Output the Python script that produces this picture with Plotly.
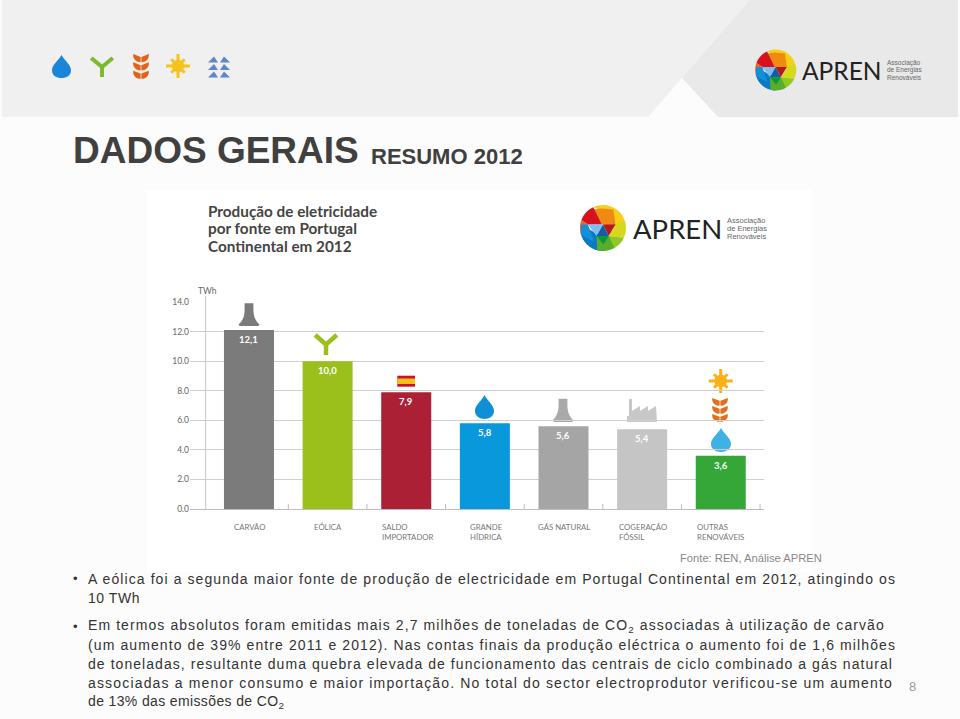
import json, math
import plotly.graph_objects as go

W, H = 960, 719
categories = ["CARVÃO", "EÓLICA", "SALDO IMPORTADOR", "GRANDE HÍDRICA", "GÁS NATURAL", "COGERAÇÃO FÓSSIL", "OUTRAS RENOVÁVEIS"]
values = [12.1, 10.0, 7.9, 5.8, 5.6, 5.4, 3.6]
value_labels = ["12,1", "10,0", "7,9", "5,8", "5,6", "5,4", "3,6"]
bar_colors = ["#7b7b7b", "#9bc01c", "#ab2035", "#0a98dc", "#a5a5a5", "#c5c5c5", "#35a738"]
y_ticks = [0, 2, 4, 6, 8, 10, 12, 14]
label_lines = [["CARVÃO"], ["EÓLICA"], ["SALDO", "IMPORTADOR"], ["GRANDE", "HÍDRICA"], ["GÁS NATURAL"], ["COGERAÇÃO", "FÓSSIL"], ["OUTRAS", "RENOVÁVEIS"]]
label_left = [233, 313, 381, 469, 537, 618, 696]
body_lines = [
    ("A eólica foi a segunda maior fonte de produção de electricidade em Portugal Continental em 2012, atingindo os", 579, 895),
    ("10 TWh", 598, 139),
    ("Em termos absolutos foram emitidas mais 2,7 milhões de toneladas de CO<sub>2</sub> associadas à utilização de carvão", 626, 886),
    ("(um aumento de 39% entre 2011 e 2012). Nas contas finais da produção eléctrica o aumento foi de 1,6 milhões", 645, 895),
    ("de toneladas, resultante duma quebra elevada de funcionamento das centrais de ciclo combinado a gás natural", 664, 892),
    ("associadas a menor consumo e maior importação. No total do sector electroprodutor verificou-se um aumento", 683, 892),
    ("de 13% das emissões de CO<sub>2</sub>", 702, 284),
]

shapes = []
anns = []


def path(cmds, color, line=None, lw=0):
    out = []
    for c in cmds:
        op, nums = c[0], c[1:]
        pts = [f"{nums[i]:.2f},{nums[i + 1]:.2f}" for i in range(0, len(nums), 2)]
        out.append(op + " ".join(pts))
    shapes.append(dict(type="path", xref="x", yref="y", layer="below",
                       path=" ".join(out) + ("" if color is None else " Z"),
                       fillcolor=color or "rgba(0,0,0,0)", line=dict(color=line or "rgba(0,0,0,0)", width=lw)))


def poly(points, color):
    path([("M", *points[0])] + [("L", *p) for p in points[1:]], color)


def rect(x0, y0, x1, y1, color):
    shapes.append(dict(type="rect", xref="x", yref="y", layer="below", x0=x0, x1=x1,
                       y0=y0, y1=y1, fillcolor=color, line=dict(width=0)))


def text(x, y, s, size, color, font="Liberation Sans", anchor="left", bold=False):
    anns.append(dict(xref="x", yref="y", x=x, y=y, text=f"<b>{s}</b>" if bold else s, showarrow=False,
                     xanchor=anchor, yanchor="middle", align=anchor, borderpad=0, font=dict(size=size, color=color, family=font)))


def drop(x0, y0, x1, y1, color):
    cx, w, h = (x0 + x1) / 2, x1 - x0, y1 - y0
    path([("M", cx, y0), ("C", cx + w * .16, y0 + h * .25, x1, y0 + h * .42, x1, y0 + h * .66),
          ("C", x1, y1 - h * .1, cx + w * .25, y1, cx, y1), ("C", cx - w * .25, y1, x0, y1 - h * .1, x0, y0 + h * .66),
          ("C", x0, y0 + h * .42, cx - w * .16, y0 + h * .25, cx, y0)], color)


def tower(cx, y0, y1, w, color):
    h = y1 - y0
    path([("M", cx - w * .21, y0 + h * .03), ("L", cx + w * .21, y0 + h * .03), ("L", cx + w * .21, y0 + h * .2),
          ("C", cx + w * .2, y0 + h * .55, cx + w * .27, y0 + h * .75, cx + w * .5, y1 - h * .06),
          ("L", cx + w * .44, y1), ("L", cx - w * .44, y1), ("L", cx - w * .5, y1 - h * .06),
          ("C", cx - w * .27, y0 + h * .75, cx - w * .2, y0 + h * .55, cx - w * .21, y0 + h * .2)], color)


def y_icon(cx, y0, y1, w, color, lw=4):
    h = y1 - y0
    path([("M", cx, y1 - 1), ("L", cx, y0 + h * .5), ("L", cx - w * .45, y0 + 2)], None, color, lw)
    path([("M", cx, y0 + h * .5), ("L", cx + w * .45, y0 + 2)], None, color, lw)


def sun(cx, cy, r, color):
    for k in range(8):
        a = k * math.pi / 4
        rr = r if k % 2 == 0 else r * .8
        path([("M", cx, cy), ("L", cx + rr * math.cos(a), cy + rr * math.sin(a))], None, color, 3)
    shapes.append(dict(type="circle", xref="x", yref="y", layer="below", x0=cx - r * .52, x1=cx + r * .52,
                       y0=cy - r * .52, y1=cy + r * .52, fillcolor=color, line=dict(width=0)))


def beans(cx, y0, y1, w, color):
    step = (y1 - y0) / 3
    for k in range(3):
        t = y0 + k * step
        for sgn in (-1, 1):
            path([("M", cx + sgn * .4, t + step * .98), ("L", cx + sgn * .4, t + step * .35), ("L", cx + sgn * w * .52, t),
                  ("C", cx + sgn * w * .56, t + step * .65, cx + sgn * w * .3, t + step * .98, cx + sgn * .4, t + step * .98)], color)


def waves(cx, cy, color):
    for k in (-1, 0, 1):
        y = cy + k * 7.5
        for sgn in (-1, 1):
            poly([(cx + sgn * 1, y + 3), (cx + sgn * 5, y - 3), (cx + sgn * 11, y + 3)], color)


def logo(cx, cy, r):
    rim = lambda a: (cx + r * math.sin(math.radians(a)), cy - r * math.cos(math.radians(a)))
    u = lambda a, b: (cx + r * a, cy + r * b)
    arc = lambda a, b: [rim(a + (b - a) * i / 10) for i in range(11)]
    poly(arc(-25, 70) + [u(.55, -.1), u(-.05, -.75)], "#f7cf1a")
    poly([u(-.42, -.8), u(-.05, -.85), u(.45, -.8), u(.55, -.1), u(-.05, -.15)], "#f18a12")
    poly(arc(-70, -25) + [u(-.05, -.15), u(-.65, -.15)], "#d6121e")
    poly(arc(-105, -70) + [u(-.65, -.15)], "#e8641b")
    poly(arc(180, 255) + [u(-.95, -.15), u(-.1, .35)], "#0a79c4")
    poly([u(-.65, -.15), u(-.95, -.15), u(-.95, .3), u(-.4, .6)], "#1290dc")
    poly([u(-.65, -.15), u(.0, -.15), u(-.28, .35)], "#7fbdf0")
    poly([u(-.28, .35), u(.0, -.15), u(.25, .35)], "#0f5ea8")
    poly([u(.0, -.15), u(.55, -.15), u(.25, .35)], "#b3171f")
    poly(arc(70, 115) + [u(.25, .35), u(.55, -.15)], "#d7d81d")
    poly(arc(115, 150) + [u(.05, .45), u(.25, .35)], "#92c824")
    poly(arc(150, 195) + [u(-.28, .35), u(.25, .35)], "#58ad2a")
    poly([u(-.28, .35), u(.25, .35), u(.02, .72)], "#0f963d")


def brand(cx, cy, r, tx, ty, size, sx, subsize, step):
    logo(cx, cy, r)
    text(tx, ty, "APREN", size, "#222222", "Lato")
    for k, s in enumerate(["Associação", "de Energias", "Renováveis"]):
        text(sx, ty + (k - 1) * step, s, subsize, "#666666", "Liberation Sans")


# page
rect(0, 0, W, H, "#fcfcfc")
rect(2, 0, 958, 117, "#f0f0f0")
poly([(750, 0), (958, 0), (958, 117), (718, 117), (682, 78)], "#e9e9e9")
poly([(682, 78), (718, 117), (648, 117)], "#fcfcfc")
rect(146, 190, 812, 572, "#ffffff")

# header icons
drop(52, 55, 71, 78, "#1b86d9")
y_icon(102, 56, 78, 24, "#7cbb2b", 4)
beans(141, 54, 79, 15, "#e2621b")
sun(178, 66, 12, "#f6c21c")
waves(219, 67, "#5f86c6")
brand(775.7, 70, 20.5, 801, 70, 24.5, 886, 6.5, 7)

# chart icons and brand
brand(603, 228, 23, 632, 228, 27.5, 726, 7.5, 8)
tower(249, 302.5, 326, 21, "#7b7b7b")
y_icon(326, 333, 356, 24, "#9bc01c", 4.5)
rect(397.3, 375.7, 415, 386.7, "#c7142b")
rect(397.3, 378.5, 415, 384, "#f7c01b")
drop(475, 395, 494, 419, "#0e8fd6")
tower(563, 398, 422, 21, "#a9a9a9")
poly([(627, 422), (627, 416), (629, 416), (629, 399), (632, 399), (632, 411), (640, 406), (640, 411), (648, 406), (648, 411), (656, 406), (657, 422)], "#c8c8c8")
sun(720.7, 381, 12, "#fbb017")
beans(720, 398, 422, 15, "#e0701b")
drop(711, 428, 731, 452, "#3fb1e5")

# chart axis furniture
shapes.append(dict(type="line", xref="x", yref="y", layer="below", x0=205.7, x1=205.7, y0=509, y1=296, line=dict(color="#c4c4c4", width=1)))
for i in range(7):
    shapes.append(dict(type="line", xref="x2", yref="y2", layer="below", x0=i + .5, x1=i + .5, y0=0, y1=.33, line=dict(color="#bbbbbb", width=1)))

# text
text(72, 150, "DADOS GERAIS", 37, "#404040", bold=True)
text(370, 156.5, "RESUMO 2012", 22, "#404040", bold=True)
for k, s in enumerate(["Produção de eletricidade", "por fonte em Portugal", "Continental em 2012"]):
    text(206.5, 211 + k * 17.3, s, 15.3, "#444444", "Lato", bold=True)
text(197, 291, "TWh", 8.5, "#666666", "Lato")
for lines, left in zip(label_lines, label_left):
    for k, s in enumerate(lines):
        text(left, 527 + k * 10, s, 7.8, "#777777", "Lato")
text(679, 558, "Fonte: REN, Análise APREN", 11.2, "#888888")
for y in (578, 626):
    text(71.5, y, "•", 13, "#333333")
for s, y, right in body_lines:
    text(87, y, s, 14, "#333333")
text(907.5, 686, "8", 13, "#999999")

for c, v, lab in zip(categories, values, value_labels):
    anns.append(dict(x=c, y=v, xref="x2", yref="y2", text=f"<b>{lab}</b>", showarrow=False, yshift=-9.5, yanchor="middle",
                     font=dict(size=9.5, color="#ffffff", family="Lato")))

fig = go.Figure()
fig.add_trace(go.Scatter(x=[], y=[], xaxis="x", yaxis="y", hoverinfo="skip"))
fig.add_trace(go.Bar(x=categories, y=values, xaxis="x2", yaxis="y2", marker=dict(color=bar_colors, line=dict(width=0)), width=.636, hoverinfo="skip"))
fig.update_layout(
    width=W, height=H, margin=dict(l=0, r=0, t=0, b=0, autoexpand=False), paper_bgcolor="#fcfcfc", plot_bgcolor="rgba(0,0,0,0)",
    showlegend=False, shapes=shapes, annotations=anns,
    xaxis=dict(domain=[0, 1], range=[0, W], visible=False, fixedrange=True),
    yaxis=dict(domain=[0, 1], range=[H, 0], visible=False, fixedrange=True),
    xaxis2=dict(domain=[190 / W, 764 / W], anchor="y2", type="category", range=[-.75, 6.55], showticklabels=False, showgrid=False, zeroline=False, ticks="", showline=False),
    yaxis2=dict(domain=[1 - 509 / H, 1 - 302 / H], anchor="x2", range=[0, 14], tickvals=y_ticks, tickformat=".1f", gridcolor="#cfcfcf", gridwidth=1,
                zeroline=True, zerolinecolor="#bdbdbd", zerolinewidth=1, ticks="", showline=False,
                tickfont=dict(size=8.5, color="#666666", family="Lato")),
)

targets = [[s.split("<sub>")[0].split(" ")[0] + " " + s.split(" ")[1], 87, r] for s, y, r in body_lines]
js = """
document.body.style.margin = 0;
var T = %s;
document.querySelectorAll('.annotation-text').forEach(function (t) {
  var c = t.textContent;
  T.forEach(function (e) {
    if (c.indexOf(e[0]) === 0) {
      var w = t.getComputedTextLength();
      t.style.letterSpacing = ((e[2] - e[1] - w) / c.length) + 'px';
    }
  });
});
""" % json.dumps(targets)
fig.write_html("out.html", post_script=js, config=dict(displayModeBar=False))
